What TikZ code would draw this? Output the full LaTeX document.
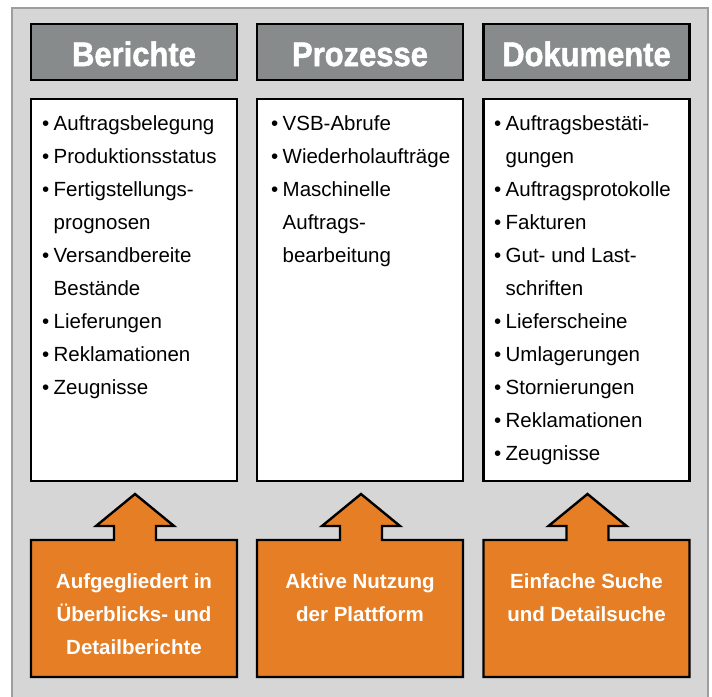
\documentclass[tikz,border=0pt]{standalone}
\usepackage{fontspec}
\setmainfont{Liberation Sans}
\newfontfamily\hdrface{Liberation Sans}[BoldFeatures={FakeBold=1.6}]
\usepackage{graphicx}
\usetikzlibrary{calc}
\definecolor{framefill}{HTML}{D6D6D6}
\definecolor{framedraw}{HTML}{9E9E9E}
\definecolor{hdrgray}{HTML}{878B8C}
\definecolor{orng}{HTML}{E67E25}
\newcommand\bt{\makebox[11.5pt][l]{\textbullet}}
\newcommand\ind{\hspace*{11.5pt}}
\begin{document}
\begin{tikzpicture}[x=1pt,y=-1pt,
  hdr/.style={draw=black, line width=2.6pt, fill=hdrgray, minimum width=206pt, minimum height=56pt, inner sep=0pt},
  hdrtxt/.style={text=white, font=\hdrface\bfseries\fontsize{34}{34}\selectfont, inner sep=0pt, anchor=base},
  listbox/.style={draw=black, line width=2.6pt, fill=white, minimum width=206pt, minimum height=382pt, inner sep=0pt},
  listtxt/.style={font=\fontsize{20.5}{33}\selectfont, align=left, inner sep=0pt, anchor=north west},
  obox/.style={draw=black, line width=2.4pt, fill=orng},
  otxt/.style={text=white, font=\bfseries\fontsize{20.5}{33}\selectfont, align=center, inner sep=0pt, anchor=north}]
\useasboundingbox (0,0) rectangle (712,696);
\fill[white] (0,0) rectangle (712,696);
\draw[draw=framedraw, line width=2pt, fill=framefill] (12,8) rectangle (708,702);

% headers
\node[hdr] (hB) at (134,52) {};
\node[hdr] (hP) at (360,52) {};
\node[hdr] (hD) at (586.5,52) {};
\node[hdrtxt] (tB) at ($(hB.center)+(0,14)$) {\scalebox{0.91}[1]{Berichte}};
\node[hdrtxt] (tP) at ($(hP.center)+(0,14)$) {\scalebox{0.91}[1]{Prozesse}};
\node[hdrtxt] (tD) at ($(hD.center)+(0,14)$) {\scalebox{0.91}[1]{Dokumente}};

% list boxes
\node[listbox] (lB) at (134,290) {};
\node[listbox] (lP) at (360,290) {};
\node[listbox] (lD) at (586.5,290) {};

\node[listtxt] (xB) at (42,107) {\strut\bt Auftragsbelegung\\
\bt Produktionsstatus\\
\bt Fertigstellungs-\\
\ind prognosen\\
\bt Versandbereite\\
\ind Bestände\\
\bt Lieferungen\\
\bt Reklamationen\\
\bt Zeugnisse};
\node[listtxt] (xP) at (271,107) {\strut\bt VSB-Abrufe\\
\bt Wiederholaufträge\\
\bt Maschinelle\\
\ind Auftrags-\\
\ind bearbeitung};
\node[listtxt] (xD) at (494,107) {\strut\bt Auftragsbestäti-\\
\ind gungen\\
\bt Auftragsprotokolle\\
\bt Fakturen\\
\bt Gut- und Last-\\
\ind schriften\\
\bt Lieferscheine\\
\bt Umlagerungen\\
\bt Stornierungen\\
\bt Reklamationen\\
\bt Zeugnisse};

% orange boxes with arrows
\foreach \cx/\nm in {134/B,360/P,586.5/D}{
  \draw[obox] (\cx-103,677) -- (\cx-103,540) -- (\cx-20,540) -- (\cx-20,526) -- (\cx-38,526)
    -- (\cx+1,494) -- (\cx+40,526) -- (\cx+22,526) -- (\cx+22,540) -- (\cx+103,540)
    -- (\cx+103,677) -- cycle;
  \coordinate (o\nm) at (\cx,565);
}
\node[otxt] (tOB) at (oB) {\strut Aufgegliedert in\\Überblicks- und\\Detailberichte};
\node[otxt] (tOP) at (oP) {\strut Aktive Nutzung\\der Plattform};
\node[otxt] (tOD) at (oD) {\strut Einfache Suche\\und Detailsuche};
\end{tikzpicture}
\end{document}
